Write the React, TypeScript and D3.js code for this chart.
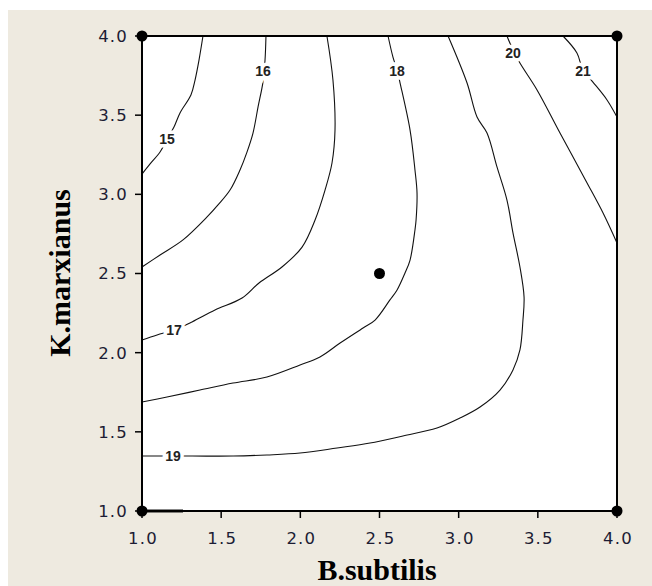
import React from 'react';
import * as d3 from 'd3';

// contour levels and the points each line passes through (B.subtilis, K.marxianus)
const levels = [15, 16, 17, 18, 19, 20, 21];

const line15 = [[1.385, 4.0], [1.36, 3.848], [1.335, 3.722], [1.309, 3.627], [1.24, 3.514], [1.202, 3.425], [1.158, 3.349], [1.114, 3.267], [1.051, 3.192], [1.0, 3.128]];
const line16 = [[1.783, 4.0], [1.777, 3.848], [1.764, 3.709], [1.733, 3.552], [1.701, 3.387], [1.663, 3.267], [1.619, 3.154], [1.556, 3.027], [1.48, 2.933], [1.411, 2.857], [1.259, 2.712], [1.114, 2.617], [1.0, 2.541]];
const line17 = [[2.168, 4.0], [2.206, 3.722], [2.219, 3.406], [2.2, 3.198], [2.156, 3.027], [2.093, 2.838], [2.011, 2.667], [1.884, 2.541], [1.739, 2.44], [1.632, 2.345], [1.461, 2.269], [1.316, 2.194], [1.202, 2.143], [1.095, 2.112], [1.0, 2.08]];
const line18 = [[2.554, 4.0], [2.585, 3.867], [2.611, 3.785], [2.63, 3.703], [2.693, 3.406], [2.724, 3.154], [2.737, 3.008], [2.731, 2.838], [2.724, 2.775], [2.693, 2.585], [2.661, 2.503], [2.611, 2.396], [2.566, 2.333], [2.472, 2.206], [2.396, 2.156], [2.251, 2.061], [2.124, 1.973], [1.998, 1.922], [1.789, 1.846], [1.575, 1.808], [1.366, 1.764], [1.158, 1.72], [1.0, 1.688]];
const line19 = [[2.933, 4.0], [3.053, 3.703], [3.116, 3.488], [3.179, 3.387], [3.242, 3.173], [3.305, 2.964], [3.343, 2.756], [3.387, 2.541], [3.413, 2.352], [3.406, 2.206], [3.387, 2.017], [3.343, 1.891], [3.261, 1.764], [3.135, 1.657], [3.008, 1.587], [2.863, 1.524], [2.648, 1.474], [2.44, 1.429], [2.232, 1.398], [1.998, 1.366], [1.789, 1.354], [1.575, 1.347], [1.316, 1.347], [1.0, 1.347]];
const line20 = [[3.305, 4.0], [3.343, 3.912], [3.387, 3.829], [3.495, 3.659], [3.64, 3.387], [3.811, 3.072], [3.912, 2.882], [4.0, 2.693]];
const line21 = [[3.659, 4.0], [3.747, 3.893], [3.785, 3.785], [3.848, 3.709], [3.937, 3.596], [4.0, 3.488]];
const contourLines = [line15, line16, line17, line18, line19, line20, line21];

// short piece of the 20 contour lying on the bottom edge
const edge20 = [[1.0, 1.0], [1.259, 1.0]];

// where the level labels sit
const labelPos = [[1.158, 3.349], [1.764, 3.779], [1.202, 2.143], [2.611, 3.779], [1.196, 1.347], [3.343, 3.893], [3.785, 3.779]];

// design points
const designX = [1, 1, 4, 4, 2.5];
const designY = [1, 4, 1, 4, 2.5];

const xTicks = [1.0, 1.5, 2.0, 2.5, 3.0, 3.5, 4.0];
const yTicks = [1.0, 1.5, 2.0, 2.5, 3.0, 3.5, 4.0];

const App = () => {
    const left = 142, right = 617, top = 36, bottom = 511;
    const x = d3.scaleLinear().domain([1, 4]).range([left, right]);
    const y = d3.scaleLinear().domain([1, 4]).range([bottom, top]);

    const line = d3.line<number[]>()
        .x(d => x(d[0]))
        .y(d => y(d[1]))
        .curve(d3.curveCatmullRom.alpha(0.5));

    const tickFont = '"DejaVu Sans", Verdana, sans-serif';
    const tickColor = '#1c1c34';

    return (
        <svg width={652} height={586} style={{ position: 'absolute', left: 0, top: 0 }}>
            <rect x={0} y={0} width={652} height={586} fill="#ffffff" />
            <rect x={8} y={10} width={644} height={576} fill="#eeeae0" />
            <rect x={left} y={top} width={right - left} height={bottom - top} fill="#ffffff" />

            {/* contour lines */}
            {contourLines.map((pts, i) => (
                <path key={'c' + i} d={line(pts) || ''} fill="none" stroke="#111" strokeWidth={1.1} />
            ))}
            <path d={d3.line<number[]>().x(d => x(d[0])).y(d => y(d[1]))(edge20) || ''} stroke="#111" strokeWidth={3} fill="none" />

            {/* level labels, white halo breaks the line */}
            {labelPos.map((p, i) => (
                <text key={'l' + i} x={x(p[0])} y={y(p[1])} dy="0.36em" textAnchor="middle"
                    fontFamily='"Liberation Sans", Arial, sans-serif' fontSize={14} fontWeight="bold" fill="#222"
                    stroke="#fff" strokeWidth={7} paintOrder="stroke"
                    style={{ paintOrder: 'stroke' }}>
                    {levels[i]}
                </text>
            ))}

            {/* frame */}
            <rect x={left} y={top} width={right - left} height={bottom - top} fill="none" stroke="#000" strokeWidth={2} />

            {/* x axis */}
            {xTicks.map(t => (
                <g key={'x' + t}>
                    <line x1={x(t)} x2={x(t)} y1={bottom} y2={bottom + 7} stroke="#000" strokeWidth={1.5} />
                    <text x={x(t) + 1} y={bottom + 33} textAnchor="middle" fontFamily={tickFont}
                        fontSize={16.5} letterSpacing={1.2} fill={tickColor}>{t.toFixed(1)}</text>
                </g>
            ))}
            {/* y axis */}
            {yTicks.map(t => (
                <g key={'y' + t}>
                    <line x1={left - 7} x2={left} y1={y(t)} y2={y(t)} stroke="#000" strokeWidth={1.5} />
                    <text x={left - 14} y={y(t)} dy="0.36em" textAnchor="end" fontFamily={tickFont}
                        fontSize={16.5} letterSpacing={1.2} fill={tickColor}>{t.toFixed(1)}</text>
                </g>
            ))}

            {/* design points */}
            {designX.map((dx, i) => (
                <circle key={'p' + i} cx={x(dx)} cy={y(designY[i])} r={5.5} fill="#000" />
            ))}

            {/* axis titles */}
            <text x={377} y={580} textAnchor="middle" fontFamily='"Liberation Serif", "Times New Roman", serif'
                fontWeight="bold" fontSize={30} fill="#000">B.subtilis</text>
            <text transform={`translate(70, 273) rotate(-90)`} textAnchor="middle"
                fontFamily='"Liberation Serif", "Times New Roman", serif'
                fontWeight="bold" fontSize={30} fill="#000">K.marxianus</text>
        </svg>
    );
};

export default App;
